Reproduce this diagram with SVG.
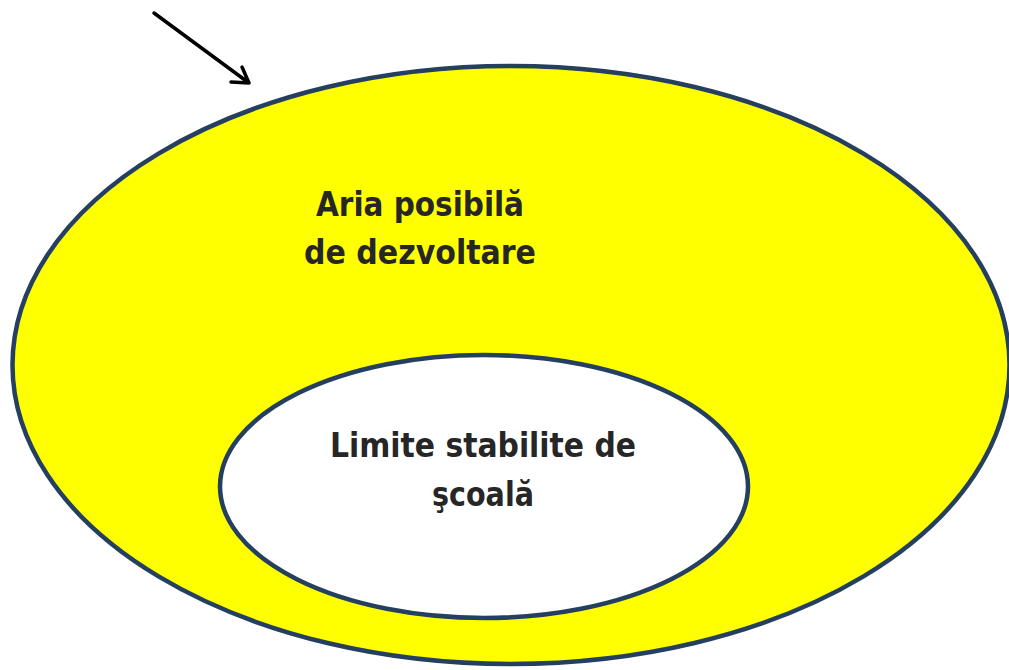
<svg xmlns="http://www.w3.org/2000/svg" width="1009" height="670" viewBox="0 0 1009 670">
<style>
.ell{stroke:#243F60;stroke-width:4.5}
.t{font-family:"DejaVu Sans Condensed","DejaVu Sans",sans-serif;font-stretch:condensed;font-weight:bold;font-size:33px;fill:#262626;text-anchor:middle}
.arr{stroke:#000;stroke-width:3.5;fill:none;stroke-linecap:round;stroke-linejoin:round}
</style>
<rect width="1009" height="670" fill="#fff"/>
<g id="outer">
<ellipse class="ell" cx="511" cy="365" rx="498.5" ry="299" fill="#FFFF00"/>
<text class="t" x="420" y="216" textLength="208" lengthAdjust="spacingAndGlyphs">Aria posibilă</text>
<text class="t" x="420" y="264" textLength="232" lengthAdjust="spacingAndGlyphs">de dezvoltare</text>
</g>
<g id="inner">
<ellipse class="ell" cx="484" cy="486.5" rx="264" ry="131.5" fill="#fff"/>
<text class="t" x="483" y="457" textLength="306" lengthAdjust="spacingAndGlyphs">Limite stabilite de</text>
<text class="t" x="483" y="506" textLength="102" lengthAdjust="spacingAndGlyphs">şcoală</text>
</g>
<g id="connectors">
<path class="arr" d="M154,13 L249,83 M231,82 L249,83 L242,67"/>
</g>
</svg>
